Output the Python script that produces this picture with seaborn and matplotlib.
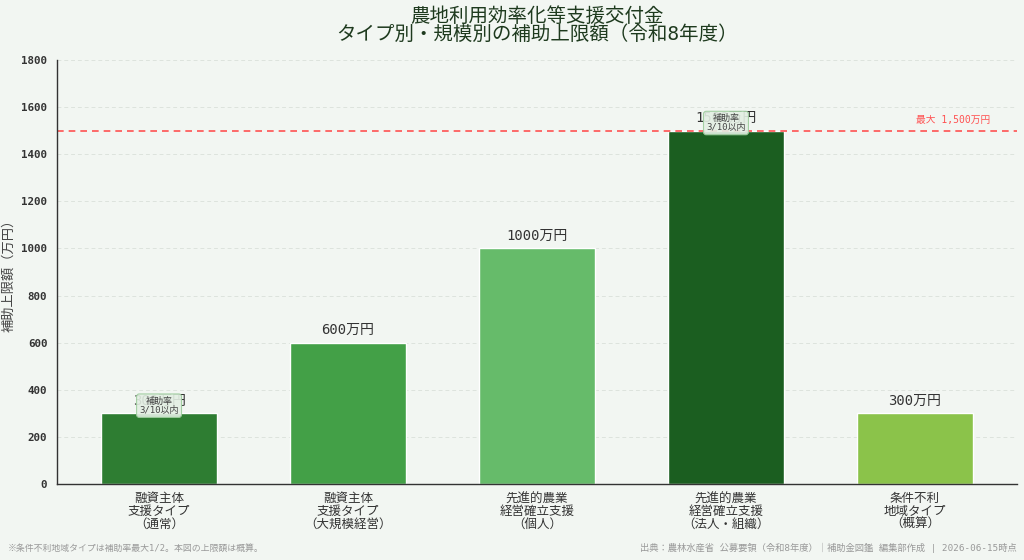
import matplotlib
matplotlib.use("Agg")
import matplotlib.pyplot as plt
import seaborn as sns
import pandas as pd

categories = ["融資主体\n支援タイプ\n（通常）", "融資主体\n支援タイプ\n（大規模経営）",
              "先進的農業\n経営確立支援\n（個人）", "先進的農業\n経営確立支援\n（法人・組織）",
              "条件不利\n地域タイプ\n（概算）"]
values = [300, 600, 1000, 1500, 300]
colors = ["#2e7d32", "#43a047", "#66bb6a", "#1b5e20", "#8bc34a"]
rate_note_idx = [0, 3]
rate_note = "補助率\n3/10以内"
max_value = 1500
max_label = "最大 1,500万円"
yticks = [0, 200, 400, 600, 800, 1000, 1200, 1400, 1600, 1800]

sns.set_theme(style="white")
FAM = ["DejaVu Sans Mono", "Noto Sans CJK JP"]
plt.rcParams["font.family"] = FAM
bg = "#f2f6f2"

fig = plt.figure(figsize=(10.24, 5.6), dpi=100, facecolor=bg)
ax = fig.add_axes([57/1024, 1-484/560, 960/1024, 424/560])
ax.set_facecolor(bg)

df = pd.DataFrame({"cat": categories, "val": values})
sns.barplot(data=df, x="cat", y="val", hue="cat", palette=colors, legend=False,
            width=0.61, ax=ax, edgecolor="white", linewidth=1.0, saturation=1)

ax.set_xlim(-0.54, 4.54)
ax.set_ylim(0, 1800)
ax.set_yticks(yticks)
ax.yaxis.grid(True, linestyle=(0, (4, 3)), color="#dde3dd", linewidth=0.7)
ax.set_axisbelow(True)
for s in ["top", "right"]:
    ax.spines[s].set_visible(False)
for s in ["left", "bottom"]:
    ax.spines[s].set_color("#333333")
    ax.spines[s].set_linewidth(1.0)
ax.tick_params(axis="both", length=3, color="#333333", labelcolor="#333333")
ax.tick_params(axis="y", labelsize=7.8, pad=4)
ax.tick_params(axis="x", labelsize=9, pad=3)
for lab in ax.get_xticklabels():
    lab.set_linespacing(0.95)
for lab in ax.get_yticklabels():
    lab.set_fontweight("bold")
ax.set_xlabel("")
ax.set_ylabel("補助上限額（万円）", fontsize=9.5, color="#444444")
ax.yaxis.set_label_coords(-42/960, 0.5)

for i, v in enumerate(values):
    ax.annotate(f"{v}万円", (i, v), xytext=(0, 4), textcoords="offset points",
                ha="center", va="bottom", fontsize=10, color="#333333")

for i in rate_note_idx:
    ax.annotate(rate_note, (i, values[i]), xytext=(0, 5.5), textcoords="offset points",
                ha="center", va="center", fontsize=6.5, color="#444444", linespacing=1.0,
                bbox=dict(boxstyle="round,pad=0.3", fc="#e3efe3", ec="#9ccc9c", lw=0.8, alpha=0.9))

ax.axhline(max_value, color="#ff5252", linestyle=(0, (4, 3)), linewidth=1.2)
ax.text(4.40, max_value + 25, max_label, ha="right", va="bottom", fontsize=7, color="#ff5252")

cx = 537/1024
fig.text(cx, 1-16/560, "農地利用効率化等支援交付金", ha="center", va="center", fontsize=14, color="#1e3a1e")
fig.text(cx, 1-34/560, "タイプ別・規模別の補助上限額（令和8年度）", ha="center", va="center", fontsize=14, color="#1e3a1e")

fig.text(8/1024, 1-548/560, "※条件不利地域タイプは補助率最大1/2。本図の上限額は概算。", ha="left", va="center",
         fontsize=6.4, color="#999999")
fig.text(1017/1024, 1-548/560, "出典：農林水産省 公募要領（令和8年度）｜補助金図鑑 編集部作成 | 2026-06-15時点",
         ha="right", va="center", fontsize=6.7, color="#999999")

fig.savefig("out.png", dpi=100, facecolor=bg)
